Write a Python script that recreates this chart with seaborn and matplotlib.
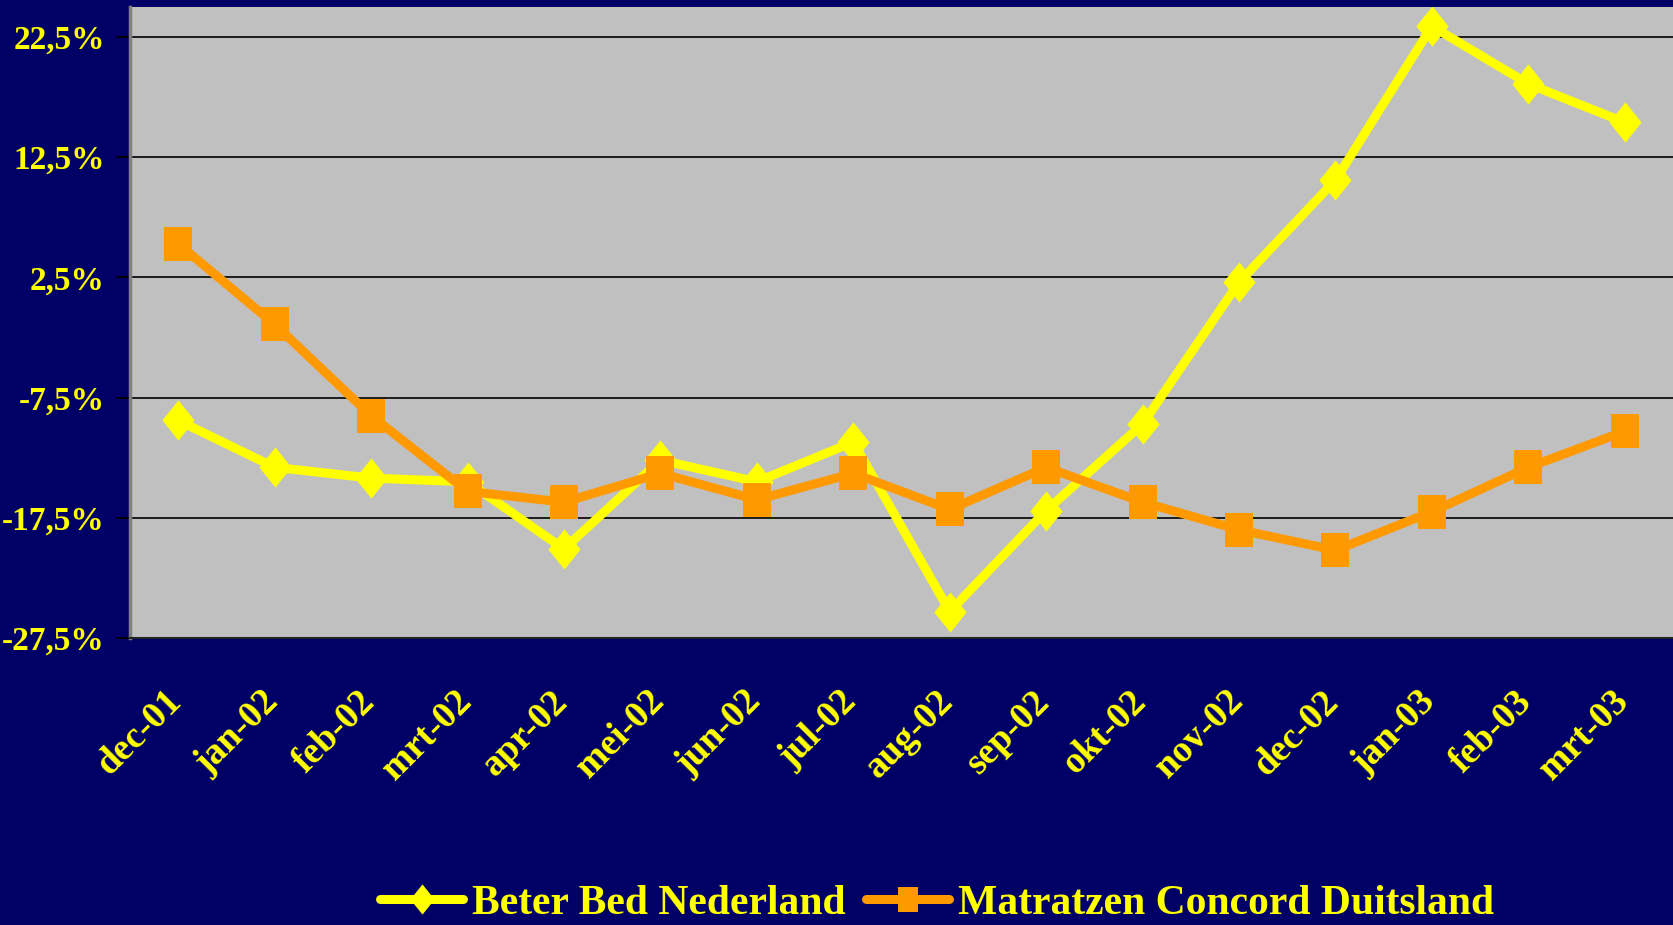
import numpy as np
import pandas as pd
import matplotlib
matplotlib.use("Agg")
import matplotlib.pyplot as plt
from matplotlib.path import Path
from matplotlib.ticker import FixedLocator, FuncFormatter
from matplotlib.transforms import ScaledTranslation
import seaborn as sns

# data (% change)
months = ["dec-01", "jan-02", "feb-02", "mrt-02", "apr-02", "mei-02", "jun-02", "jul-02",
          "aug-02", "sep-02", "okt-02", "nov-02", "dec-02", "jan-03", "feb-03", "mrt-03"]
beter_bed = [-9.4, -13.3, -14.2, -14.5, -20.1, -12.7, -14.5, -11.2,
             -25.3, -16.9, -9.7, 2.1, 10.6, 23.4, 18.6, 15.4]
matratzen = [5.3, -1.4, -9.0, -15.3, -16.2, -13.8, -16.0, -13.8,
             -16.8, -13.3, -16.2, -18.5, -20.2, -17.0, -13.3, -10.3]
series_names = ["Beter Bed Nederland", "Matratzen Concord Duitsland"]
y_ticks = [-27.5, -17.5, -7.5, 2.5, 12.5, 22.5]

NAVY = "#000066"
GREY = "#C0C0C0"
YELLOW = "#FFFF00"
ORANGE = "#FF9900"

sns.set_style("white")
plt.rcParams["font.family"] = ["Liberation Serif", "DejaVu Serif"]
plt.rcParams["font.weight"] = "bold"

# slightly tall markers, like the stretched original
diamond = Path([(-0.8, 0), (0, 1), (0.8, 0), (0, -1), (-0.8, 0)],
               [Path.MOVETO, Path.LINETO, Path.LINETO, Path.LINETO, Path.CLOSEPOLY])
square = Path([(-0.83, -1), (0.83, -1), (0.83, 1), (-0.83, 1), (-0.83, -1)],
              [Path.MOVETO, Path.LINETO, Path.LINETO, Path.LINETO, Path.CLOSEPOLY])

df = pd.DataFrame({
    "pos": list(range(len(months))) * 2,
    "value": beter_bed + matratzen,
    "series": [series_names[0]] * len(months) + [series_names[1]] * len(months),
})

fig = plt.figure(figsize=(16.73, 9.25), dpi=100, facecolor=NAVY)
ax = fig.add_axes([0.0777, 0.3103, 0.9223, 0.6821])
ax.set_facecolor(GREY)

styles = {series_names[0]: (YELLOW, diamond, 29), series_names[1]: (ORANGE, square, 24)}
for name in series_names:
    color, mk, ms = styles[name]
    sub = df[df["series"] == name]
    sns.lineplot(data=sub, x="pos", y="value", ax=ax, color=color,
                 marker=mk, label=name, legend=False, zorder=3)
    line = ax.lines[-1]
    line.set_linewidth(6.5)
    line.set_markersize(ms)
    line.set_markeredgewidth(0)
    line.set_markerfacecolor(color)

ax.set_xlim(-0.5, len(months) - 0.5)
ax.set_ylim(-27.5, 25)

ax.yaxis.set_major_locator(FixedLocator(y_ticks))
ax.yaxis.set_major_formatter(FuncFormatter(lambda v, p: f"{v:.1f}%".replace(".", ",")))
ax.grid(axis="y", color="black", lw=1.2)
ax.set_axisbelow(True)

ax.set_xticks(range(len(months)))
ax.set_xticklabels(months, rotation=45, ha="right", rotation_mode="anchor")
ax.set_xticks(np.arange(-0.5, len(months), 1), minor=True)
ax.tick_params(axis="x", which="major", length=0, pad=33, labelsize=27, labelcolor=YELLOW)
ax.tick_params(axis="x", which="minor", length=12, width=1.3, color="#222222", direction="out")
ax.tick_params(axis="y", length=10, width=1.3, color="black", direction="out",
               pad=8, labelsize=24, labelcolor=YELLOW, left=True)
shift = ScaledTranslation(-14 / 100, 0, fig.dpi_scale_trans)
for lab in ax.get_xticklabels():
    lab.set_fontweight("bold")
    lab.set_transform(lab.get_transform() + shift)
for lab in ax.get_yticklabels():
    lab.set_fontweight("bold")

ax.set_xlabel("")
ax.set_ylabel("")
for s in ["top", "right"]:
    ax.spines[s].set_visible(False)
ax.spines["left"].set_color("#808080")
ax.spines["left"].set_linewidth(2.5)
ax.spines["bottom"].set_color("#222222")
ax.spines["bottom"].set_linewidth(1.5)

handles, labels = ax.get_legend_handles_labels()
fig.legend(handles, labels, loc="center", bbox_to_anchor=(0.56, 0.023), ncol=2,
           frameon=False, handlelength=2.0, handletextpad=0.2, markerscale=0.75,
           columnspacing=0.5, labelcolor=YELLOW, prop={"weight": "bold", "size": 30})

fig.savefig("out.png", dpi=100, facecolor=NAVY)
